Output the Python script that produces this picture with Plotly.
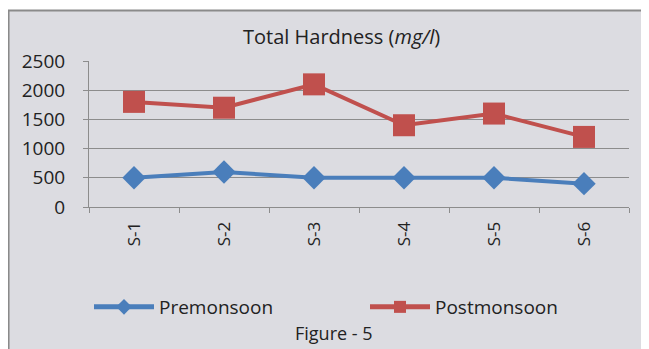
import plotly.graph_objects as go

categories = ["S-1", "S-2", "S-3", "S-4", "S-5", "S-6"]
premonsoon = [500, 600, 500, 500, 500, 400]
postmonsoon = [1800, 1700, 2100, 1400, 1600, 1200]

BG = "#dcdce1"
FONT = "Open Sans, Lato, sans-serif"
TXT = "#222222"

fig = go.Figure()
fig.add_trace(go.Scatter(x=categories, y=premonsoon, name="Premonsoon", mode="lines+markers",
                         line=dict(color="#4a7ebb", width=4), legendwidth=201,
                         marker=dict(symbol="diamond", size=18, color="#4a7ebb")))
fig.add_trace(go.Scatter(x=categories, y=postmonsoon, name="Postmonsoon", mode="lines+markers",
                         line=dict(color="#c0504d", width=4), legendwidth=140,
                         marker=dict(symbol="square", size=22, color="#c0504d")))

fig.update_layout(
    width=641, height=341,
    margin=dict(l=81, r=20, t=53, b=142),
    paper_bgcolor="white", plot_bgcolor=BG,
    font=dict(family=FONT, color=TXT, size=17),
    showlegend=True,
    legend=dict(orientation="h", x=0.0, y=-0.685, xanchor="left", yanchor="middle",
                bgcolor="rgba(0,0,0,0)", font=dict(size=19, color=TXT),
                itemwidth=60, itemsizing="constant", entrywidthmode="pixels"),
    xaxis=dict(range=[-0.5, 5.5], tickangle=-90, showgrid=False, showline=True,
               linecolor="#8c8c8c", linewidth=1, ticks="outside", ticklen=5,
               tickcolor="#8c8c8c", tickson="boundaries", tickfont=dict(size=17, color=TXT),
               ticklabelstandoff=7, fixedrange=True),
    yaxis=dict(range=[0, 2500], dtick=500, showgrid=True, gridcolor="#8c8c8c", gridwidth=1,
               showline=True, linecolor="#8c8c8c", linewidth=1, ticks="outside", ticklen=5,
               tickcolor="#8c8c8c", zeroline=False, tickfont=dict(size=19, color=TXT),
               ticklabelstandoff=14, fixedrange=True),
    shapes=[dict(type="rect", xref="paper", yref="paper", x0=-0.149, x1=1.0333, y0=-1.1, y1=1.346,
                 fillcolor=BG, line=dict(color="#8a8a8a", width=2), layer="below")],
    annotations=[
        dict(text="Total Hardness (<i>mg/l</i>)", xref="paper", yref="paper", x=0.4685, y=1.171,
             showarrow=False, font=dict(size=20, color=TXT), xanchor="center", yanchor="middle"),
        dict(text="Figure - 5", xref="paper", yref="paper", x=0.454, y=-0.865,
             showarrow=False, font=dict(size=18, color=TXT), xanchor="center", yanchor="middle"),
    ],
)

fig.write_html("out.html")
